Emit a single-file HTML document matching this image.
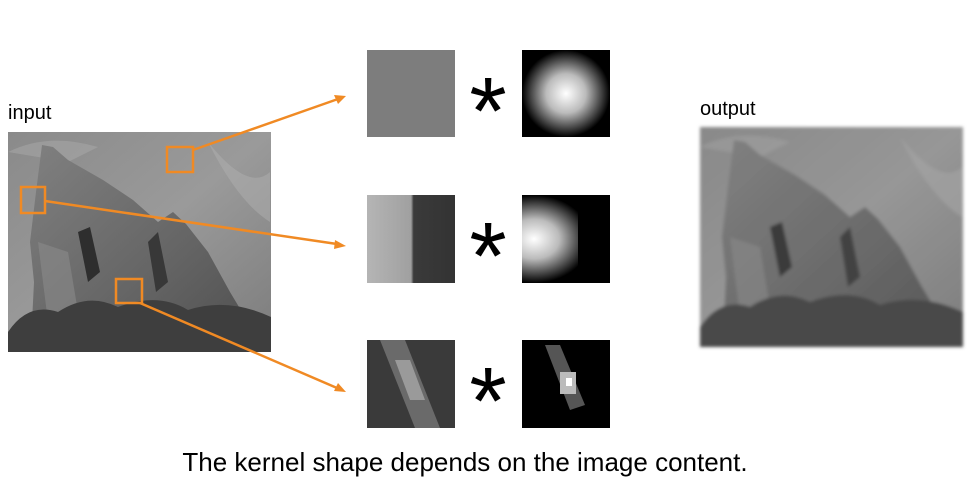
<!DOCTYPE html>
<html><head><meta charset="utf-8"><style>
body{margin:0;background:#fff;width:974px;height:487px;overflow:hidden;font-family:"Liberation Sans",sans-serif}
</style></head><body>
<svg width="974" height="487" viewBox="0 0 974 487" xmlns="http://www.w3.org/2000/svg">
<defs>
<linearGradient id="sky" x1="0" y1="0" x2="1" y2="1"><stop offset="0" stop-color="#8a8a8a"/><stop offset="0.5" stop-color="#9a9a9a"/><stop offset="1" stop-color="#7c7c7c"/></linearGradient>
<linearGradient id="rockg" x1="0" y1="0" x2="1" y2="1"><stop offset="0" stop-color="#808080"/><stop offset="0.6" stop-color="#646464"/><stop offset="1" stop-color="#4e4e4e"/></linearGradient>
<radialGradient id="gk"><stop offset="0" stop-color="#fff"/><stop offset="0.45" stop-color="#bbb"/><stop offset="1" stop-color="#000"/></radialGradient>
<linearGradient id="edge" x1="0" x2="1"><stop offset="0" stop-color="#b5b5b5"/><stop offset="0.5" stop-color="#a0a0a0"/><stop offset="0.53" stop-color="#3a3a3a"/><stop offset="1" stop-color="#333"/></linearGradient>
<filter id="blur"><feGaussianBlur stdDeviation="1.6"/></filter>
<clipPath id="halfclip"><rect x="522" y="195" width="56" height="88"/></clipPath>
<g id="scene">
<rect x="0" y="0" width="263" height="220" fill="url(#sky)"/>
<path d="M200 10 Q240 60 262 40 L262 90 Q230 70 200 10Z" fill="#b0b0b0" opacity="0.5"/>
<path d="M0 20 Q40 0 90 15 L60 30Z" fill="#aaa" opacity="0.5"/>
<polygon points="34,13 45,15 60,28 95,48 125,68 150,90 165,80 178,92 200,120 222,160 240,190 248,220 20,220 24,190 26,150 22,110 28,60" fill="url(#rockg)"/>
<polygon points="70,100 82,95 92,140 80,150" fill="#2e2e2e"/>
<polygon points="140,110 150,100 160,150 148,160" fill="#383838"/>
<polygon points="30,110 60,120 70,180 40,190" fill="#8a8a8a" opacity="0.6"/>
<path d="M0 200 Q20 170 50 180 Q80 160 110 175 Q150 160 180 178 Q220 165 263 185 L263 220 L0 220Z" fill="#3e3e3e"/>
</g>
</defs>
<text x="8" y="119" font-size="20" fill="#000">input</text>
<g transform="translate(8,132)"><use href="#scene"/></g>
<text x="700" y="115" font-size="20" fill="#000">output</text>
<g transform="translate(700,127)" filter="url(#blur)"><use href="#scene"/><rect width="263" height="220" fill="#888" opacity="0.15"/></g>
<g fill="none" stroke="#f08a24" stroke-width="2.5">
<rect x="167" y="147" width="26" height="25"/>
<rect x="21" y="187" width="24" height="26"/>
<rect x="116" y="279" width="26" height="24"/>
<line x1="193" y1="150" x2="338" y2="99"/>
<line x1="45" y1="201" x2="337" y2="244"/>
<line x1="140" y1="303" x2="337" y2="388"/>
</g>
<g fill="#f08a24"><polygon points="346,96 334,95 338,104"/><polygon points="346,246 335,240 334,249"/><polygon points="346,392 338,383 334,391"/></g>
<rect x="367" y="50" width="88" height="87" fill="#7d7d7d"/>
<rect x="522" y="50" width="88" height="87" fill="url(#gk)"/>
<rect x="367" y="195" width="88" height="88" fill="url(#edge)"/>
<rect x="522" y="195" width="88" height="88" fill="#000"/>
<rect x="478" y="195" width="112" height="88" fill="url(#gk)" clip-path="url(#halfclip)"/>
<rect x="367" y="340" width="88" height="88" fill="#3a3a3a"/>
<polygon points="380,340 405,340 440,428 415,428" fill="#6a6a6a"/>
<polygon points="395,360 410,360 425,400 410,400" fill="#9a9a9a"/>
<rect x="522" y="340" width="88" height="88" fill="#000"/>
<polygon points="545,345 560,345 585,405 570,410" fill="#555"/>
<rect x="560" y="372" width="16" height="22" fill="#bbb"/><rect x="566" y="378" width="6" height="8" fill="#fff"/>
<g font-size="96" text-anchor="middle" fill="#000" font-family="Liberation Sans,sans-serif">
<text x="488" y="144">*</text><text x="488" y="289">*</text><text x="488" y="434">*</text></g>
<text x="465" y="471" font-size="26" text-anchor="middle" fill="#000">The kernel shape depends on the image content.</text>
</svg>
</body></html>
